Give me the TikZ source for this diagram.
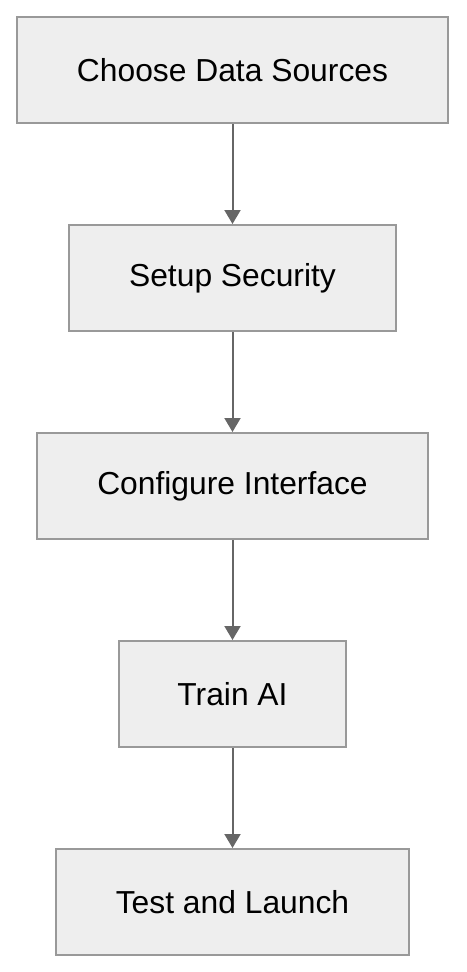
\documentclass[tikz,border=0pt]{standalone}
\usepackage{fontspec}
\setmainfont{Liberation Sans}
\usetikzlibrary{arrows.meta}
\definecolor{boxfill}{HTML}{EEEEEE}
\definecolor{boxline}{HTML}{999999}
\definecolor{arrowgray}{HTML}{666666}
\begin{document}
\begin{tikzpicture}[x=1pt,y=-1pt,
		stepbox/.style={draw=boxline,fill=boxfill,line width=2pt,minimum height=106pt,inner sep=0pt,font=\fontsize{31.8}{38}\selectfont},
		flow/.style={draw=arrowgray,line width=2pt,-{Triangle[width=16pt,length=14pt]}}]
		\useasboundingbox (0,0) rectangle (466,972);
		
		\node[stepbox,minimum width=431pt] (sources) at (232.5,70) {Choose Data Sources};
		\node[stepbox,minimum width=327pt] (security) at (232.5,278) {Setup Security};
		\node[stepbox,minimum width=391pt] (interface) at (232.5,486) {Configure Interface};
		\node[stepbox,minimum width=227pt] (train) at (232.5,694) {Train AI};
		\node[stepbox,minimum width=353pt] (launch) at (232.5,902) {Test and Launch};
		
		\draw[flow] (sources) -- (security);
		\draw[flow] (security) -- (interface);
		\draw[flow] (interface) -- (train);
		\draw[flow] (train) -- (launch);
		
	\end{tikzpicture}
\end{document}
